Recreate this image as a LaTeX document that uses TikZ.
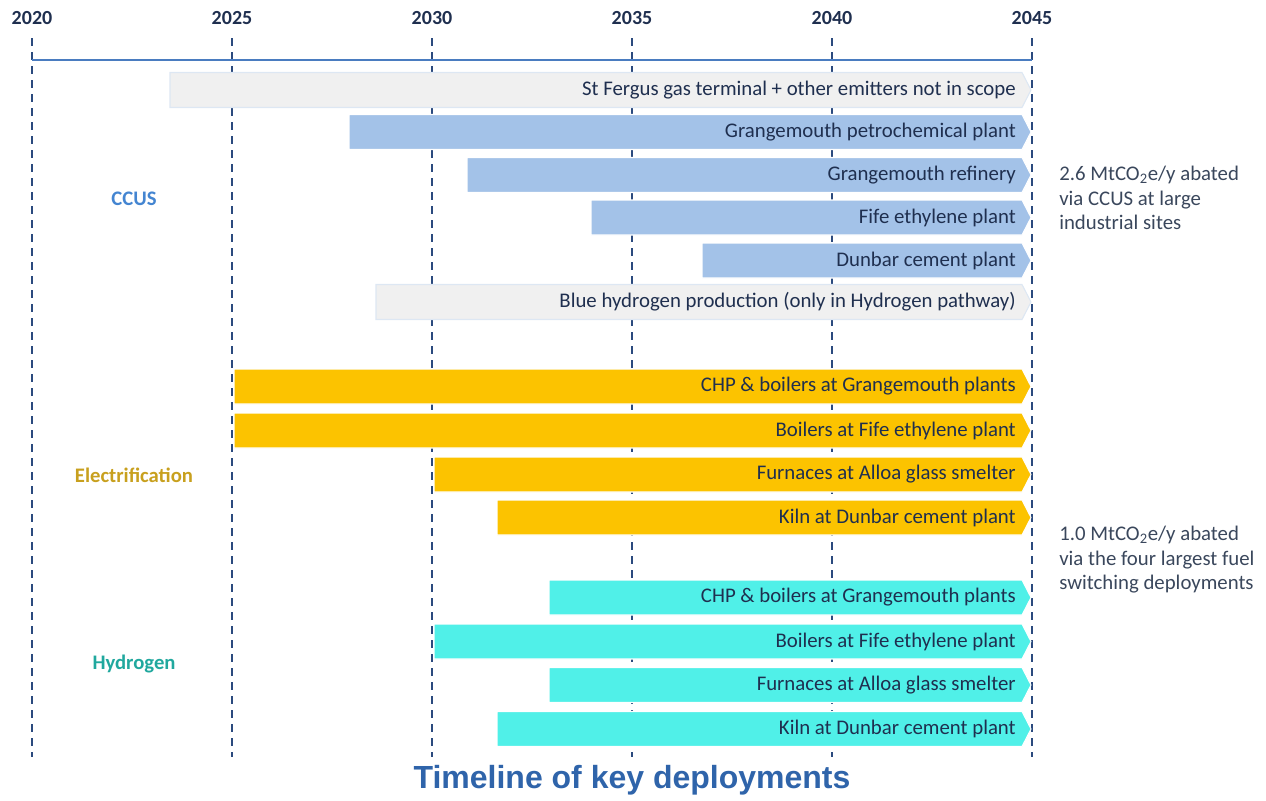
\documentclass[tikz,border=0pt]{standalone}
\usepackage{fontspec}
\setmainfont{Carlito}
\newfontfamily\titlefont{Liberation Sans}
\usepackage{tikz}
\usetikzlibrary{positioning}
\definecolor{navytext}{HTML}{1F2F4F}
\definecolor{notetext}{HTML}{3A475C}
\definecolor{axisblue}{HTML}{4A7CC0}
\definecolor{gridblue}{HTML}{2B4A7E}
\definecolor{titleblue}{HTML}{2F64AA}
\definecolor{ccusfill}{HTML}{A3C2E8}
\definecolor{scopefill}{HTML}{F0F0F0}
\definecolor{scopeedge}{HTML}{DDE7F3}
\definecolor{elecfill}{HTML}{FCC300}
\definecolor{hydfill}{HTML}{50F0E8}
\definecolor{ccuslabel}{HTML}{4485D1}
\definecolor{eleclabel}{HTML}{C8A01E}
\definecolor{hydlabel}{HTML}{20A89E}

% one deployment bar: name, start x, centre y, fill style, label
\newcommand{\deploy}[5]{%
  \path[#4] (#2,#3-17.5) -- (1022,#3-17.5) -- (1031,#3)
    -- (1022,#3+17.5) -- (#2,#3+17.5) -- cycle;
  \node[bartext] (#1) at (1016,#3) {#5};
}

\begin{document}
\begin{tikzpicture}[
        x=0.75pt, y=-0.75pt,
        yearlabel/.style={
            text=navytext,
            font=\fontsize{15}{17}\selectfont\bfseries
        },
        gridline/.style={
            draw=gridblue,
            line width=1.5pt,
            dash pattern=on 6pt off 4.5pt
        },
        bartext/.style={
            anchor=east,
            inner sep=0pt,
            text=navytext,
            font=\fontsize{15.6}{18}\selectfont
        },
        ccusbar/.style={fill=ccusfill, draw=white, line width=0.8pt},
        scopebar/.style={fill=scopefill, draw=scopeedge, line width=0.8pt},
        elecbar/.style={fill=elecfill, draw=white, line width=0.8pt},
        hydbar/.style={fill=hydfill, draw=white, line width=0.8pt},
        group/.style={
            font=\fontsize{15.5}{18}\selectfont\bfseries
        },
        note/.style={
            anchor=west,
            align=left,
            inner sep=0pt,
            text=notetext,
            font=\fontsize{15.6}{18.4}\selectfont
        }
    ]
        \useasboundingbox (0,0) rectangle (1266,800);

        % years and dashed grid
        \foreach \yr [count=\i from 0] in {2020,2025,2030,2035,2040,2045} {
            \node[yearlabel] (y\yr) at (32+200*\i,18) {\yr};
            \draw[gridline] (32+200*\i,38) -- (32+200*\i,757);
        }
        \draw[axisblue, line width=2.1pt] (y2020 |- 0,60) -- (y2045 |- 0,60);

        % CCUS
        \deploy{fergus}{170}{90}{scopebar}{St Fergus gas terminal + other emitters not in scope}
        \deploy{petchem}{349}{132}{ccusbar}{Grangemouth petrochemical plant}
        \deploy{refinery}{467}{175}{ccusbar}{Grangemouth refinery}
        \deploy{fife}{591}{217.5}{ccusbar}{Fife ethylene plant}
        \deploy{dunbar}{702}{260.5}{ccusbar}{Dunbar cement plant}
        \deploy{bluehyd}{376}{302}{scopebar}{Blue hydrogen production (only in Hydrogen pathway)}

        % electrification
        \deploy{elecchp}{234}{386.5}{elecbar}{CHP \& boilers at Grangemouth plants}
        \deploy{elecboil}{234}{430.5}{elecbar}{Boilers at Fife ethylene plant}
        \deploy{elecfurn}{434}{474.5}{elecbar}{Furnaces at Alloa glass smelter}
        \deploy{eleckiln}{497}{517.5}{elecbar}{Kiln at Dunbar cement plant}

        % hydrogen
        \deploy{hydchp}{549}{597.5}{hydbar}{CHP \& boilers at Grangemouth plants}
        \deploy{hydboil}{434}{641.5}{hydbar}{Boilers at Fife ethylene plant}
        \deploy{hydfurn}{549}{685}{hydbar}{Furnaces at Alloa glass smelter}
        \deploy{hydkiln}{497}{729}{hydbar}{Kiln at Dunbar cement plant}

        % group names
        \node[group, text=ccuslabel] (ccus) at (134,199) {CCUS};
        \node[group, text=eleclabel] (elec) at (134,475) {Electrification};
        \node[group, text=hydlabel] (hyd) at (134,664) {Hydrogen};

        % abatement notes
        \node[note] (ccusnote) at (1059,198) {2.6 MtCO\textsubscript{2}e/y abated\\via CCUS at large\\industrial sites};
        \node[note] (fuelnote) at (1059,560) {1.0 MtCO\textsubscript{2}e/y abated\\via the four largest fuel\\switching deployments};

        \node[text=titleblue, font=\titlefont\fontsize{24}{28}\selectfont\bfseries] (title) at (632,780) {Timeline of key deployments};
    \end{tikzpicture}
\end{document}
